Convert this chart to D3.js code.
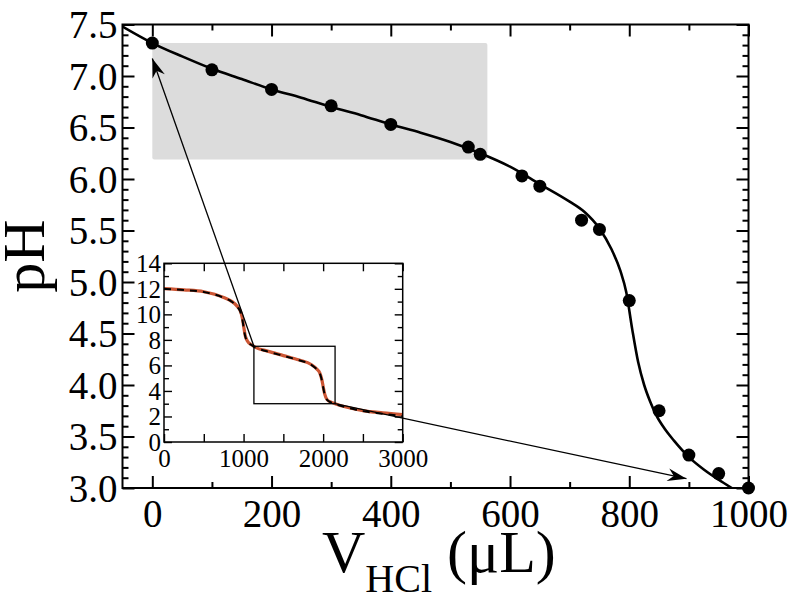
<!DOCTYPE html>
<html><head><meta charset="utf-8">
<script src="https://cdn.jsdelivr.net/npm/d3@7"></script>
<style>body{margin:0;background:#fff} svg{display:block}</style>
</head><body>
<svg id="c" width="796" height="598"></svg>
<script>
// ---- data ----
const pointVol = [0,100,200,300,400,530,550,620,650,720,750,800,850,900,950,1000];
const pointPH  = [7.32,7.06,6.87,6.71,6.53,6.31,6.24,6.03,5.93,5.60,5.51,4.82,3.75,3.32,3.14,3.0];
const fitVol = [-50,0,50,100,150,200,250,300,350,400,450,500,550,600,650,700,725,750,770,785,795,805,815,825,835,845,860,875,900,925,950,972];
const fitPH  = [7.48,7.32,7.19,7.07,6.97,6.87,6.79,6.70,6.62,6.53,6.45,6.36,6.25,6.12,5.95,5.78,5.68,5.52,5.32,5.11,4.90,4.54,4.22,4.00,3.84,3.71,3.57,3.46,3.30,3.18,3.08,3.0];
const insetVol     = [0,250,500,750,850,925,960,985,1000,1020,1050,1100,1150,1300,1500,1700,1850,1920,1960,1985,2000,2020,2050,2100,2150,2300,2500,2750,3000];
const insetModelPH = [12.0,11.9,11.75,11.3,11.0,10.55,10.2,9.6,9.0,8.3,7.85,7.6,7.4,7.1,6.75,6.4,6.05,5.7,5.35,4.8,4.3,3.7,3.3,3.1,2.98,2.7,2.42,2.22,2.02];
const insetSimPH   = [12.02,11.92,11.77,11.32,11.02,10.6,10.25,9.7,9.1,8.35,7.9,7.62,7.42,7.12,6.77,6.42,6.07,5.72,5.38,4.85,4.35,3.75,3.32,3.12,3.0,2.72,2.46,2.28,2.14];
const mainXTicks = [0,200,400,600,800,1000];
const mainXMinor = [100,300,500,700,900];
const mainYTicks = [3.0,3.5,4.0,4.5,5.0,5.5,6.0,6.5,7.0,7.5];
const insetXTicks = [0,1000,2000,3000];
const insetXMinor = [500,1500,2500];
const insetYTicks = [0,2,4,6,8,10,12,14];
const insetYMinor = [1,3,5,7,9,11,13];
const highlightVol = [0,562], highlightPH = [6.19,7.32];
const zoomBoxVol = [1130,2150], zoomBoxPH = [3.0,7.5];
const arrowFromInsetVol = [1130,2150], arrowFromInsetPH = [7.5,3.0];
const arrowToVol = [0,896], arrowToPH = [7.17,3.09];

// ---- scales ----
const svg = d3.select("#c");
const FONT = "'Liberation Serif','Times New Roman',serif";
const x = d3.scaleLinear().domain([-50,1000]).range([122.5,748.5]);
const y = d3.scaleLinear().domain([3,7.5]).range([488,24.5]);
const ix = d3.scaleLinear().domain([0,3000]).range([164,402.7]);
const iy = d3.scaleLinear().domain([0,14]).range([442,263.3]);

svg.append("defs").append("clipPath").attr("id","clipMain")
  .append("rect").attr("x",x.range()[0]).attr("y",y.range()[1])
  .attr("width",x.range()[1]-x.range()[0]).attr("height",y.range()[0]-y.range()[1]);

// highlight box
svg.append("rect")
  .attr("x",x(highlightVol[0])).attr("y",y(highlightPH[1]))
  .attr("width",x(highlightVol[1])-x(highlightVol[0]))
  .attr("height",y(highlightPH[0])-y(highlightPH[1]))
  .attr("rx",2).attr("fill","#dcdcdc");

// fit line
const fitData = fitVol.map((v,i)=>[v,fitPH[i]]);
svg.append("path").datum(fitData)
  .attr("clip-path","url(#clipMain)")
  .attr("d",d3.line().x(d=>x(d[0])).y(d=>y(d[1])).curve(d3.curveMonotoneX))
  .attr("fill","none").attr("stroke","#000").attr("stroke-width",2.6);

// points
svg.append("g").selectAll("circle").data(pointVol.map((v,i)=>[v,pointPH[i]]))
  .join("circle").attr("cx",d=>x(d[0])).attr("cy",d=>y(d[1])).attr("r",6.5).attr("fill","#000");

// axes helper
function styleAxis(g, fs){
  g.select(".domain").remove();
  g.selectAll(".tick line").attr("stroke","#000").attr("stroke-width",fs>30?2:1.4);
  g.selectAll(".tick text").attr("font-family",FONT).attr("font-size",fs).attr("fill","#000");
}
const bottomY = y.range()[0], topY = y.range()[1], leftX = x.range()[0], rightX = x.range()[1];
// main bottom
let g = svg.append("g").attr("transform",`translate(0,${bottomY})`)
  .call(d3.axisBottom(x).tickValues(mainXTicks).tickSize(-12).tickPadding(11).tickFormat(d3.format("d")));
styleAxis(g,39);
g = svg.append("g").attr("transform",`translate(0,${bottomY})`)
  .call(d3.axisBottom(x).tickValues(mainXMinor).tickSize(-6).tickFormat(""));
styleAxis(g,39);
// main top
g = svg.append("g").attr("transform",`translate(0,${topY})`)
  .call(d3.axisTop(x).tickValues(mainXTicks).tickSize(-12).tickFormat(""));
styleAxis(g,39);
g = svg.append("g").attr("transform",`translate(0,${topY})`)
  .call(d3.axisTop(x).tickValues(mainXMinor).tickSize(-6).tickFormat(""));
styleAxis(g,39);
// main left
const yMinor = d3.range(30,76).map(v=>v/10).filter(v=>Math.round(v*10)%5!==0);
g = svg.append("g").attr("transform",`translate(${leftX},0)`)
  .call(d3.axisLeft(y).tickValues(mainYTicks).tickSize(-12).tickPadding(5).tickFormat(d3.format(".1f")));
styleAxis(g,39);
g.selectAll(".tick text").attr("dy","0.34em");
g = svg.append("g").attr("transform",`translate(${leftX},0)`)
  .call(d3.axisLeft(y).tickValues(yMinor).tickSize(-6).tickFormat(""));
styleAxis(g,39);
// main right
g = svg.append("g").attr("transform",`translate(${rightX},0)`)
  .call(d3.axisRight(y).tickValues(mainYTicks).tickSize(-12).tickFormat(""));
styleAxis(g,39);
g = svg.append("g").attr("transform",`translate(${rightX},0)`)
  .call(d3.axisRight(y).tickValues(yMinor).tickSize(-6).tickFormat(""));
styleAxis(g,39);
// frame
svg.append("rect").attr("x",leftX).attr("y",topY).attr("width",rightX-leftX).attr("height",bottomY-topY)
  .attr("fill","none").attr("stroke","#000").attr("stroke-width",2);

// axis titles
svg.append("text").attr("transform","translate(44,256) rotate(-90)")
  .attr("text-anchor","middle").attr("font-family",FONT).attr("font-size",60).text("pH");
const xt = svg.append("text").attr("x",322).attr("y",572).attr("font-family",FONT).attr("font-size",60);
xt.append("tspan").text("V");
xt.append("tspan").attr("font-size",40).attr("dy",20).text("HCl");
xt.append("tspan").attr("dy",-20).text(" (μL)");

// ---- inset ----
const iL = ix.range()[0], iR = ix.range()[1], iB = iy.range()[0], iT = iy.range()[1];
svg.append("rect").attr("x",iL).attr("y",iT).attr("width",iR-iL).attr("height",iB-iT).attr("fill","#fff");
g = svg.append("g").attr("transform",`translate(0,${iB})`)
  .call(d3.axisBottom(ix).tickValues(insetXTicks).tickSize(-8).tickPadding(7).tickFormat(d3.format("d")));
styleAxis(g,25);
g = svg.append("g").attr("transform",`translate(0,${iB})`)
  .call(d3.axisBottom(ix).tickValues(insetXMinor).tickSize(-8).tickFormat(""));
styleAxis(g,25);
g = svg.append("g").attr("transform",`translate(0,${iT})`)
  .call(d3.axisTop(ix).tickValues(insetXTicks.concat(insetXMinor)).tickSize(-8).tickFormat(""));
styleAxis(g,25);
g = svg.append("g").attr("transform",`translate(${iL},0)`)
  .call(d3.axisLeft(iy).tickValues(insetYTicks).tickSize(-8).tickPadding(3).tickFormat(d3.format("d")));
styleAxis(g,25);
g.selectAll(".tick text").attr("dy","0.34em");
g = svg.append("g").attr("transform",`translate(${iL},0)`)
  .call(d3.axisLeft(iy).tickValues(insetYMinor).tickSize(-5).tickFormat(""));
styleAxis(g,25);
g = svg.append("g").attr("transform",`translate(${iR},0)`)
  .call(d3.axisRight(iy).tickValues(insetYTicks).tickSize(-8).tickFormat(""));
styleAxis(g,25);
g = svg.append("g").attr("transform",`translate(${iR},0)`)
  .call(d3.axisRight(iy).tickValues(insetYMinor).tickSize(-5).tickFormat(""));
styleAxis(g,25);

const iline = d3.line().x(d=>ix(d[0])).y(d=>iy(d[1])).curve(d3.curveMonotoneX);
svg.append("path").datum(insetVol.map((v,i)=>[v,insetSimPH[i]]))
  .attr("d",iline).attr("fill","none").attr("stroke","#cc5533").attr("stroke-width",3.2);
svg.append("path").datum(insetVol.map((v,i)=>[v,insetModelPH[i]]))
  .attr("d",iline).attr("fill","none").attr("stroke","#000").attr("stroke-width",2).attr("stroke-dasharray","7,6");
// zoom box
svg.append("rect").attr("x",ix(zoomBoxVol[0])).attr("y",iy(zoomBoxPH[1]))
  .attr("width",ix(zoomBoxVol[1])-ix(zoomBoxVol[0])).attr("height",iy(zoomBoxPH[0])-iy(zoomBoxPH[1]))
  .attr("fill","none").attr("stroke","#000").attr("stroke-width",1.3);
svg.append("rect").attr("x",iL).attr("y",iT).attr("width",iR-iL).attr("height",iB-iT)
  .attr("fill","none").attr("stroke","#000").attr("stroke-width",1.5);

// arrows
svg.select("defs").append("marker").attr("id","ah").attr("markerUnits","userSpaceOnUse")
  .attr("viewBox","-20 -8 22 16").attr("refX",0).attr("refY",0)
  .attr("markerWidth",22).attr("markerHeight",16).attr("orient","auto")
  .append("path").attr("d","M0,0 L-19,-6.5 L-13,0 L-19,6.5 Z").attr("fill","#000");
arrowToVol.forEach((v,i)=>{
  svg.append("line")
    .attr("x1",ix(arrowFromInsetVol[i])).attr("y1",iy(arrowFromInsetPH[i]))
    .attr("x2",x(v)).attr("y2",y(arrowToPH[i]))
    .attr("stroke","#000").attr("stroke-width",1.3).attr("marker-end","url(#ah)");
});
</script>
</body></html>
